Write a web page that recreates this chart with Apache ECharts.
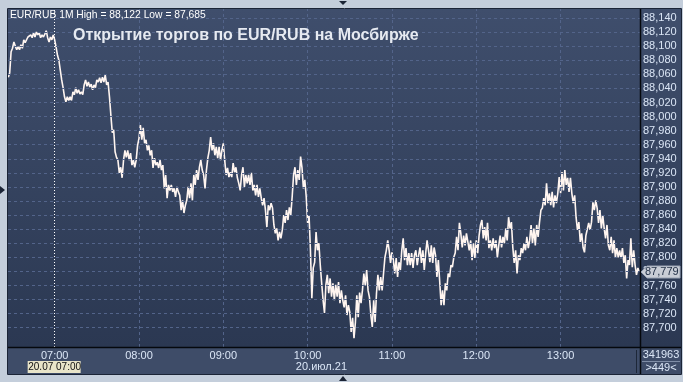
<!DOCTYPE html>
<html>
<head>
<meta charset="utf-8">
<script src="https://cdn.jsdelivr.net/npm/echarts@6/dist/echarts.min.js"></script>
<style>html,body{margin:0;padding:0;background:#c4cedb;}#c{width:683px;height:382px;}</style>
</head>
<body>
<div id="c"></div>
<script>
// ---- data ----
const titleText = 'Открытие торгов по EUR/RUB на Мосбирже';
const infoText = 'EUR/RUB 1M High = 88,122 Low = 87,685';
const dateText = '20.июл.21';
const cursorText = '20.07 07:00';
const cursorTime = '07:00';
const volumeText = '341963';
const countText = '>449<';
const startTime = '06:27'; // first 1-minute bar
const prices = [
// 06:27 - 06:59
88.056,88.062,88.092,88.097,88.106,88.100,88.095,88.099,88.095,88.102,88.097,88.109,88.105,
88.106,88.113,88.112,88.116,88.112,88.119,88.113,88.120,88.116,88.119,88.112,88.116,88.113,88.117,88.122,88.112,88.106,88.113,88.109,88.116,
// 07:00 - 07:59
88.109,88.099,88.087,88.080,88.066,88.052,88.041,88.028,88.021,88.028,88.023,88.028,88.023,88.035,88.031,88.041,88.033,88.038,88.032,88.035,
88.031,88.045,88.052,88.043,88.049,88.042,88.046,88.038,88.045,88.041,88.052,88.049,88.055,88.048,88.056,88.049,88.059,88.045,88.049,88.028,
88.002,87.977,87.981,87.950,87.942,87.938,87.920,87.928,87.913,87.938,87.952,87.942,87.952,87.938,87.948,87.931,87.938,87.928,87.938,87.959,
// 08:00 - 08:59
87.969,87.988,87.967,87.984,87.962,87.967,87.952,87.959,87.945,87.952,87.927,87.941,87.931,87.935,87.927,87.938,87.924,87.931,87.898,87.917,
87.884,87.903,87.895,87.903,87.893,87.898,87.886,87.900,87.893,87.888,87.867,87.881,87.863,87.874,87.881,87.900,87.884,87.905,87.881,87.917,
87.903,87.924,87.910,87.928,87.938,87.924,87.917,87.898,87.924,87.941,87.952,87.971,87.952,87.962,87.945,87.957,87.941,87.957,87.938,87.952,
// 09:00 - 09:59
87.962,87.938,87.917,87.927,87.914,87.921,87.914,87.934,87.921,87.928,87.913,87.905,87.895,87.917,87.928,87.900,87.917,87.905,87.917,87.903,
87.920,87.895,87.903,87.888,87.903,87.886,87.898,87.884,87.874,87.884,87.867,87.843,87.874,87.867,87.877,87.870,87.846,87.834,87.841,87.824,
87.836,87.827,87.839,87.860,87.849,87.867,87.853,87.871,87.860,87.886,87.917,87.928,87.903,87.924,87.910,87.943,87.927,87.898,87.910,87.886,
// 10:00 - 10:59
87.849,87.860,87.810,87.742,87.785,87.793,87.836,87.810,87.820,87.789,87.763,87.739,87.721,87.761,87.775,87.749,87.770,87.744,87.763,87.739,
87.761,87.744,87.765,87.735,87.753,87.739,87.729,87.746,87.718,87.732,87.722,87.694,87.714,87.685,87.708,87.746,87.715,87.750,87.735,87.753,
87.777,87.760,87.782,87.753,87.743,87.718,87.701,87.739,87.708,87.749,87.775,87.753,87.772,87.753,87.777,87.800,87.810,87.824,87.810,87.792,
// 11:00 - 11:59
87.807,87.796,87.777,87.799,87.772,87.793,87.782,87.810,87.827,87.796,87.813,87.789,87.806,87.789,87.806,87.785,87.803,87.810,87.789,87.803,
87.814,87.792,87.810,87.782,87.806,87.824,87.810,87.793,87.817,87.792,87.814,87.803,87.772,87.796,87.765,87.732,87.753,87.732,87.763,87.753,
87.777,87.772,87.789,87.786,87.800,87.806,87.829,87.810,87.849,87.834,87.814,87.831,87.817,87.834,87.822,87.810,87.824,87.796,87.820,87.799,
// 12:00 - 12:59
87.824,87.806,87.831,87.846,87.853,87.827,87.843,87.824,87.849,87.813,87.824,87.810,87.827,87.813,87.824,87.800,87.817,87.831,87.814,87.829,
87.820,87.841,87.824,87.857,87.841,87.850,87.814,87.792,87.810,87.777,87.803,87.796,87.813,87.806,87.820,87.810,87.829,87.813,87.824,87.846,
87.820,87.841,87.817,87.846,87.829,87.850,87.867,87.870,87.884,87.874,87.905,87.877,87.891,87.874,87.893,87.871,87.888,87.877,87.891,87.914,
// 13:00 - 13:56
87.891,87.921,87.895,87.924,87.903,87.913,87.893,87.913,87.891,87.877,87.888,87.857,87.839,87.850,87.822,87.834,87.814,87.807,87.831,87.829,
87.849,87.839,87.850,87.878,87.867,87.881,87.870,87.849,87.867,87.841,87.860,87.841,87.827,87.846,87.817,87.810,87.829,87.806,87.824,87.800,
87.813,87.800,87.810,87.799,87.813,87.792,87.803,87.770,87.796,87.789,87.827,87.786,87.810,87.789,87.775,87.785,87.779
];
const yTicks = [87.70,87.72,87.74,87.76,87.78,87.80,87.82,87.84,87.86,87.88,87.90,87.92,87.94,87.96,87.98,88.00,88.02,88.04,88.06,88.08,88.10,88.12,88.14];
const xTicks = ['07:00','08:00','09:00','10:00','11:00','12:00','13:00'];
const viewStart = '06:26.8';
const viewEnd = '13:56.5';
const yMin = 87.6726, yMax = 88.1528;

// ---- helpers ----
function toMin(s){const [h,m]=s.split(':');return (+h)*60+parseFloat(m);}
function fmtTime(v){const h=Math.floor(v/60),m=Math.round(v-h*60);return String(h).padStart(2,'0')+':'+String(m).padStart(2,'0');}
function fmtPrice(v){return v.toFixed(3).replace('.',',');}
const t0 = toMin(startTime);
const lineData = prices.map((p,i)=>[t0+i,p]);
const xTickVals = xTicks.map(toMin);

const FONT = 'Liberation Sans';
const LBL = '#dbe6f6';

const chart = echarts.init(document.getElementById('c'), null, {renderer:'canvas'});
const option = {
  animation:false,
  backgroundColor:'#c4cedb',
  title:{text:titleText,left:73,top:28,padding:0,textStyle:{color:'#e6eaf1',fontSize:16,fontWeight:'bold',fontFamily:FONT}},
  grid:{left:8,right:43,top:9,bottom:35,containLabel:false},
  xAxis:{type:'value',min:toMin(viewStart),max:toMin(viewEnd),
    axisLine:{show:false},axisTick:{show:false},splitLine:{show:false},
    axisLabel:{customValues:xTickVals,formatter:fmtTime,color:LBL,fontSize:11,fontFamily:FONT,margin:3}},
  yAxis:{type:'value',position:'right',min:yMin,max:yMax,scale:true,
    axisLine:{show:false},axisTick:{show:false},splitLine:{show:false},
    axisLabel:{customValues:yTicks,formatter:fmtPrice,color:LBL,fontSize:11,fontFamily:FONT,margin:3}},
  series:[
    {type:'line',data:[],z:1,silent:true,
      markLine:{silent:true,symbol:['none','none'],label:{show:false},animation:false,
        lineStyle:{color:'#53648a',type:[3,3],width:1},
        data:yTicks.map(v=>({yAxis:v})).concat(xTickVals.filter(v=>v!==toMin(cursorTime)).map(v=>({xAxis:v})))}},
    {type:'line',data:[],z:4,silent:true,
      markLine:{silent:true,symbol:['none','none'],label:{show:false},animation:false,
        lineStyle:{color:'#ffffff',type:[1,2],width:1},
        data:[{xAxis:toMin(cursorTime)}]}},
    {type:'line',data:lineData,z:3,showSymbol:false,symbol:'none',clip:true,
      lineStyle:{color:'#fff5f0',width:1.6},silent:true}
  ]
};
chart.setOption(option);

// overlay decorations positioned from the axes
const last = prices[prices.length-1];
const tagY = Math.round(chart.convertToPixel({yAxisIndex:0}, last));
const curX = chart.convertToPixel({xAxisIndex:0}, toMin(cursorTime));
chart.setOption({graphic:{elements:[
  {type:'rect',z:-100,shape:{x:8,y:9,width:673,height:338},style:{fill:new echarts.graphic.LinearGradient(0,0,0,1,[{offset:0,color:'#3f4e6c'},{offset:1,color:'#2b3852'}])}},
  {type:'rect',z:-100,shape:{x:8,y:347,width:673,height:27},style:{fill:'#3e4c68'}},
  {type:'rect',z:40,shape:{x:7.5,y:8.5,width:674,height:366},style:{fill:null,stroke:'#1b2436',lineWidth:1}},
  {type:'line',z:40,shape:{x1:8,y1:347.5,x2:681,y2:347.5},style:{stroke:'#05080d',lineWidth:1.5}},
  {type:'line',z:40,shape:{x1:640.5,y1:9,x2:640.5,y2:374},style:{stroke:'#05080d',lineWidth:1.5}},
  {type:'line',z:40,shape:{x1:636.5,y1:350,x2:636.5,y2:373},style:{stroke:'#1d2738',lineWidth:1}},
  {type:'line',z:40,shape:{x1:642,y1:361.5,x2:680,y2:361.5},style:{stroke:'#7f8da6',lineWidth:1}},
  {type:'text',z:50,style:{x:661,y:355,text:volumeText,fill:LBL,font:'11px '+FONT,textAlign:'center',textVerticalAlign:'middle'}},
  {type:'text',z:50,style:{x:661,y:368,text:countText,fill:LBL,font:'11px '+FONT,textAlign:'center',textVerticalAlign:'middle'}},
  {type:'text',z:50,style:{x:347,y:367,text:dateText,fill:LBL,font:'11px '+FONT,textAlign:'right',textVerticalAlign:'middle'}},
  {type:'rect',z:50,shape:{x:curX-27,y:361,width:53,height:12},style:{fill:'#e8e4c8'}},
  {type:'text',z:51,style:{x:curX,y:367,text:cursorText,fill:'#111',font:'10px '+FONT,textAlign:'center',textVerticalAlign:'middle'}},
  {type:'text',z:50,style:{x:10,y:15,text:infoText,fill:'#ffffff',font:'10.3px '+FONT,textAlign:'left',textVerticalAlign:'middle'}},
  {type:'polygon',z:50,shape:{points:[[641,tagY],[647,tagY-6],[680,tagY-6],[680,tagY+6],[647,tagY+6]]},style:{fill:'#c9cdd6',stroke:'#9aa3b3',lineWidth:1}},
  {type:'text',z:51,style:{x:645,y:tagY,text:fmtPrice(last),fill:'#1f2d44',font:'11px '+FONT,textAlign:'left',textVerticalAlign:'middle'}},
  {type:'polygon',z:50,shape:{points:[[339,1],[347,1],[343,5]]},style:{fill:'#1b2436'}},
  {type:'polygon',z:50,shape:{points:[[0,186],[0,194],[5,190]]},style:{fill:'#1b2436'}},
  {type:'polygon',z:50,shape:{points:[[339,381],[347,381],[343,376]]},style:{fill:'#1b2436'}}
]}});
</script>
</body>
</html>
